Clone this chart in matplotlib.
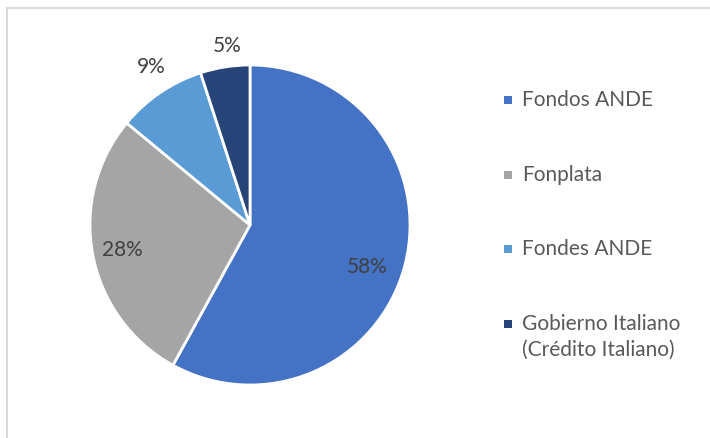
import numpy as np
import matplotlib.pyplot as plt
import matplotlib.patches as mpatches

# Data
labels = ['Fondos ANDE', 'Fonplata', 'Fondes ANDE', 'Gobierno Italiano\n(Crédito Italiano)']
values = [58, 28, 9, 5]
colors = ['#4472C4', '#A5A5A5', '#5B9BD5', '#264478']
label_dist = [0.775, 0.81, 1.17, 1.135]  # where each % label sits (radius units)
label_shift = [-5, 0, -2.3, -1.7]  # degrees off the wedge middle

W, H = 710, 439
fig = plt.figure(figsize=(W / 100, H / 100), dpi=100)

# chart area border (cropped screenshot, so only left/top visible)
fig.patches.append(mpatches.Rectangle((7 / W, -0.1), 1.1, (H - 9) / H + 0.1,
                                      transform=fig.transFigure, fill=False,
                                      edgecolor='#D9D9D9', linewidth=1.5))

# Pie: center (250, 226) px, radius 160 px
cx, cy, r = 250, 226, 160
ax = fig.add_axes([(cx - r) / W, (H - cy - r) / H, 2 * r / W, 2 * r / H])
wedges, _ = ax.pie(values, colors=colors, startangle=90, counterclock=False,
                   wedgeprops=dict(edgecolor='white', linewidth=2))
ax.set_xlim(-1, 1)
ax.set_ylim(-1, 1)
ax.axis('off')

for w, v, d, s in zip(wedges, values, label_dist, label_shift):
    mid = np.deg2rad((w.theta1 + w.theta2) / 2 + s)
    ax.text(d * np.cos(mid), d * np.sin(mid), f'{v}%', ha='center', va='center',
            fontsize=15, color='#404040', family='Lato', clip_on=False)

# Legend drawn by hand
leg_y = [101, 176, 250, 325]
for lab, col, y in zip(labels, colors, leg_y):
    fig.patches.append(mpatches.Rectangle(((508 - 4) / W, (H - y - 4) / H), 8 / W, 8 / H,
                                          transform=fig.transFigure, facecolor=col,
                                          edgecolor='none'))
    fig.text(522 / W, (H - y + 11) / H, lab, ha='left', va='top',
             fontsize=15, color='#595959', family='Lato', linespacing=1.35,
             transform=fig.transFigure)

plt.savefig('out.png', dpi=100)
